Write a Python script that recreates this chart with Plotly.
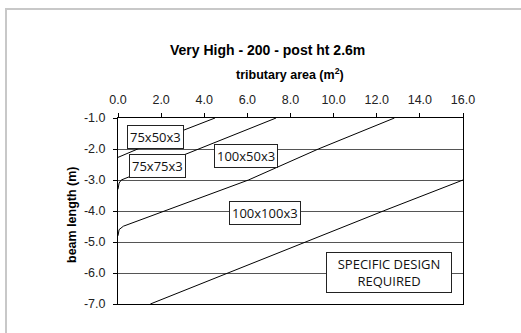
import plotly.graph_objects as go

# beam size curves: tributary area (m²) vs beam length (m)
c1_x = [0.0, 2.2, 4.5]
c1_y = [-2.27, -1.62, -1.0]

c2_x = [0.0, 0.05, 0.15, 3.65, 5.6, 7.33]
c2_y = [-3.3, -3.1, -3.0, -2.02, -1.5, -1.0]

c3_x = [0.0, 0.05, 0.25, 2.1, 6.05, 9.29, 12.82]
c3_y = [-4.8, -4.6, -4.49, -4.02, -3.0, -2.0, -1.0]

c4_x = [1.5, 5.08, 8.67, 12.3, 16.0]
c4_y = [-7.0, -6.0, -5.0, -4.0, -3.0]

x_ticks = [0, 2, 4, 6, 8, 10, 12, 14, 16]
x_ticktext = ["0.0", "2.0", "4.0", "6.0", "8.0", "10.0", "12.0", "14.0", "16.0"]
y_ticks = [-1, -2, -3, -4, -5, -6, -7]
y_ticktext = ["-1.0", "-2.0", "-3.0", "-4.0", "-5.0", "-6.0", "-7.0"]

# curve labels: text, x, y
label_text = ["75x50x3", "75x75x3", "100x50x3", "100x100x3"]
label_x = [1.76, 1.81, 5.93, 6.8]
label_y = [-1.61, -2.56, -2.23, -4.05]

W, H = 521, 333
L, R, T, B = 118, 463, 118, 304


def px(xp):
    return (xp - L) / (R - L)


def py(yp):
    return (B - yp) / (B - T)


fig = go.Figure()
for xs, ys in [(c1_x, c1_y), (c2_x, c2_y), (c3_x, c3_y), (c4_x, c4_y)]:
    fig.add_trace(go.Scatter(x=xs, y=ys, mode="lines",
                             line=dict(color="black", width=1),
                             showlegend=False, hoverinfo="skip"))

label_font = dict(family="Open Sans", size=13, color="#111")
annotations = []
for t, x, y in zip(label_text, label_x, label_y):
    annotations.append(dict(x=x, y=y, xref="x", yref="y", text=t, showarrow=False,
                            font=label_font, bgcolor="white", bordercolor="#222",
                            borderwidth=1, borderpad=2))
annotations.append(dict(x=12.57, y=-5.97, xref="x", yref="y",
                        text="SPECIFIC DESIGN<br>REQUIRED", showarrow=False,
                        font=label_font, bgcolor="white", bordercolor="#222",
                        borderwidth=1, width=122, height=37))
annotations.append(dict(x=px(267), y=py(50), xref="paper", yref="paper",
                        text="<b>Very High - 200 - post ht 2.6m</b>", showarrow=False,
                        font=dict(family="Liberation Sans", size=14, color="black"),
                        xanchor="center", yanchor="middle"))
annotations.append(dict(x=px(290), y=py(74), xref="paper", yref="paper",
                        text="<b>tributary area (m<sup>2</sup>)</b>", showarrow=False,
                        font=dict(family="Liberation Sans", size=12.5, color="black"),
                        xanchor="center", yanchor="middle"))
annotations.append(dict(x=px(72), y=py(215), xref="paper", yref="paper",
                        text="<b>beam length (m)</b>", showarrow=False, textangle=-90,
                        font=dict(family="Liberation Sans", size=12.5, color="black"),
                        xanchor="center", yanchor="middle"))

fig.update_layout(
    width=W, height=H,
    margin=dict(l=L, r=W - R, t=T, b=H - B, pad=0),
    paper_bgcolor="white", plot_bgcolor="white",
    font=dict(family="Liberation Sans", size=12, color="#222"),
    annotations=annotations,
    shapes=[dict(type="rect", xref="paper", yref="paper",
                 x0=px(6), x1=px(560), y0=py(370), y1=py(9),
                 line=dict(color="#c8c8c8", width=2), layer="below")],
    xaxis=dict(range=[0, 16], side="top", tickvals=x_ticks, ticktext=x_ticktext,
               ticks="outside", ticklen=4, tickcolor="black", showgrid=False,
               zeroline=False, showline=True, linecolor="black", linewidth=1,
               mirror=True, ticklabelstandoff=4,
               tickfont=dict(size=12.5, color="#222")),
    yaxis=dict(range=[-7, -1], tickvals=y_ticks, ticktext=y_ticktext,
               ticks="outside", ticklen=4, tickcolor="black", showgrid=True,
               gridcolor="#555", gridwidth=1, zeroline=False, showline=True,
               linecolor="black", linewidth=1, mirror=True, ticklabelstandoff=5,
               tickfont=dict(size=12.5, color="#222")),
)

fig.write_html("out.html")
